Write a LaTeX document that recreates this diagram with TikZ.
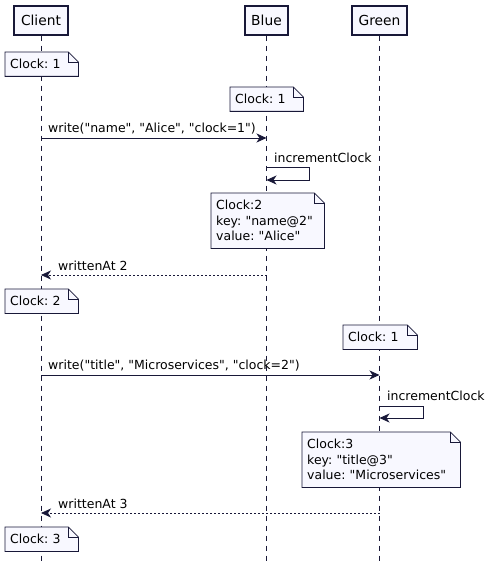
\documentclass[tikz,border=0pt]{standalone}
\usepackage{fontspec}
\setmainfont{DejaVu Sans}[Ligatures=TeXOff]
\usetikzlibrary{arrows.meta}
\newcommand\dq{"}
\definecolor{ink}{HTML}{181838}
\definecolor{boxfill}{HTML}{F8F8FF}
\tikzset{
 actor/.style={draw=ink, line width=1.4pt, fill=boxfill, minimum height=29pt, inner sep=0pt, font=\fontsize{13.8}{16}\selectfont},
 life/.style={draw=ink, line width=0.8pt, dash pattern=on 5pt off 5pt},
 msg/.style={draw=ink, line width=0.8pt, -{Stealth[length=10pt,width=9pt,inset=3pt]}},
 ret/.style={msg, dash pattern=on 2pt off 2pt},
 lbl/.style={font=\fontsize{12.5}{14}\selectfont, inner sep=0pt, anchor=west, text=black},
 notebox/.style={fill=boxfill, anchor=north west, inner xsep=5pt, inner ysep=0pt, align=left, font=\fontsize{12.5}{15.5}\selectfont},
 noteline/.style={draw=ink, line width=0.8pt},
}
\newcommand\dogear[1]{%
 \fill[white] ([xshift=-10pt]#1.north east) -- (#1.north east) -- ([yshift=-10pt]#1.north east) -- cycle;
 \draw[noteline] (#1.south west) -- (#1.north west) -- ([xshift=-10pt]#1.north east) -- ([yshift=-10pt]#1.north east) -- (#1.south east) -- cycle;
 \draw[noteline] ([xshift=-10pt]#1.north east) |- ([yshift=-10pt]#1.north east);}
\begin{document}
\frenchspacing
\begin{tikzpicture}[x=1pt,y=-1pt]
\useasboundingbox (0,0) rectangle (492,572);
% lifelines
\coordinate (cE) at (41,563);
\coordinate (bE) at (266.5,563);
\coordinate (gE) at (379.5,563);
\node[actor, minimum width=54pt] (client) at (41,20.5) {Client};
\node[actor, minimum width=43pt] (blue) at (266.5,20.5) {Blue};
\node[actor, minimum width=55pt] (green) at (379.5,20.5) {Green};
\draw[life] (client.south) -- (cE);
\draw[life] (blue.south) -- (bE);
\draw[life] (green.south) -- (gE);
% notes
\node[notebox, text width=63pt, minimum height=24pt] (n1) at (5,52) {Clock: 1};
\dogear{n1}
\node[notebox, text width=63pt, minimum height=24pt] (n2) at (230,87) {Clock: 1};
\dogear{n2}
% message 1
\coordinate (m1a) at (41,138);
\coordinate (m1b) at (266.5,138);
\draw[msg] (m1a) -- (m1b);
\node[lbl] (t1) at (48,129) {write(\dq name\dq, \dq Alice\dq, \dq clock=1\dq)};
% self 1
\coordinate (s1a) at (266.5,167);
\coordinate (s1b) at (309,167);
\coordinate (s1c) at (309,180);
\coordinate (s1d) at (266.5,180);
\draw[msg] (s1a) -- (s1b) -- (s1c) -- (s1d);
\node[lbl] (t2) at (274,158) {incrementClock};
\node[notebox, text width=103pt, minimum height=55pt] (n3) at (211,193) {Clock:2\\key: \dq name@2\dq\\value: \dq Alice\dq};
\dogear{n3}
% return 1
\coordinate (r1a) at (266.5,275);
\coordinate (r1b) at (41,275);
\draw[ret] (r1a) -- (r1b);
\node[lbl] (t3) at (58,266) {writtenAt 2};
\node[notebox, text width=63pt, minimum height=24pt] (n4) at (5,289) {Clock: 2};
\dogear{n4}
\node[notebox, text width=64pt, minimum height=24pt] (n5) at (343,325) {Clock: 1};
\dogear{n5}
% message 2
\coordinate (m2a) at (41,375);
\coordinate (m2b) at (379.5,375);
\draw[msg] (m2a) -- (m2b);
\node[lbl] (t4) at (48,366) {write(\dq title\dq, \dq Microservices\dq, \dq clock=2\dq)};
% self 2
\coordinate (s2a) at (379.5,406);
\coordinate (s2b) at (423,406);
\coordinate (s2c) at (423,418);
\coordinate (s2d) at (379.5,418);
\draw[msg] (s2a) -- (s2b) -- (s2c) -- (s2d);
\node[lbl] (t5) at (387,396) {incrementClock};
\node[notebox, text width=148pt, minimum height=55pt] (n6) at (302,432) {Clock:3\\key: \dq title@3\dq\\value: \dq Microservices\dq};
\dogear{n6}
% return 2
\coordinate (r2a) at (379.5,513);
\coordinate (r2b) at (41,513);
\draw[ret] (r2a) -- (r2b);
\node[lbl] (t6) at (58,504) {writtenAt 3};
\node[notebox, text width=63pt, minimum height=24pt] (n7) at (5,527) {Clock: 3};
\dogear{n7}
\end{tikzpicture}
\end{document}
